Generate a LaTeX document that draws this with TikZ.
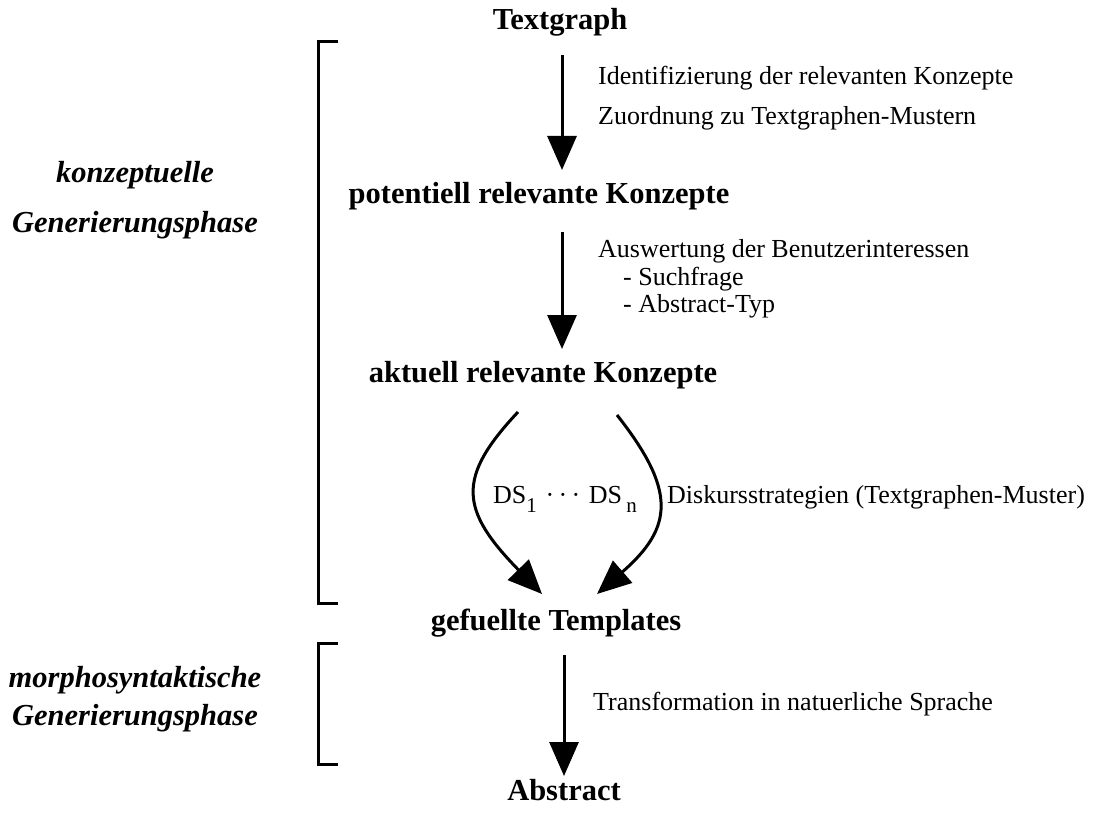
\documentclass[tikz,border=0pt]{standalone}
\usepackage{fontspec}
\setmainfont{Liberation Serif}
\usetikzlibrary{arrows.meta}
\tikzset{
  big/.style={font=\fontsize{30.5}{36}\selectfont\bfseries, inner sep=0pt, anchor=base},
  phase/.style={font=\fontsize{30.5}{36}\selectfont\bfseries\itshape, inner sep=0pt, anchor=base},
  lbl/.style={font=\fontsize{26}{30}\selectfont, inner sep=0pt, anchor=base west},
  flow/.style={line width=3pt, -{Triangle[length=34pt,width=29pt]}},
  brk/.style={line width=3pt, line cap=butt}
}
\begin{document}
\begin{tikzpicture}[x=1pt,y=-1pt]
\useasboundingbox[fill=white] (0,0) rectangle (1113,813);
% main nodes
\node[big] (tg) at (560,30) {Textgraph};
\node[big] (pot) at (539,204) {potentiell relevante Konzepte};
\node[big] (akt) at (543,382) {aktuell relevante Konzepte};
\node[big] (gef) at (556,630) {gefuellte Templates};
\node[big] (abs) at (564,800) {Abstract};
% phase labels
\node[phase] (k1) at (135,183) {konzeptuelle};
\node[phase] (k2) at (135,233) {Generierungsphase};
\node[phase] (m1) at (135,687) {morphosyntaktische};
\node[phase] (m2) at (135,725) {Generierungsphase};
% side labels
\node[lbl] (l1) at (598,85) {Identifizierung der relevanten Konzepte};
\node[lbl] (l2) at (598,125) {Zuordnung zu Textgraphen-Mustern};
\node[lbl] (l3) at (598,257) {Auswertung der Benutzerinteressen};
\node[lbl] (l4) at (623,285) {- Suchfrage};
\node[lbl] (l5) at (623,312) {- Abstract-Typ};
\node[lbl] (ds) at (493,503) {DS\raisebox{-9pt}{\fontsize{21}{21}\selectfont 1}\,\,·\,·\,·\,\,DS\,\raisebox{-9pt}{\fontsize{21}{21}\selectfont n}};
\node[lbl] (l6) at (667,503) {Diskursstrategien (Textgraphen-Muster)};
\node[lbl] (l7) at (593,710) {Transformation in natuerliche Sprache};
% arrow end points
\coordinate (a1s) at (562,55);  \coordinate (a1e) at (562,170);
\coordinate (a2s) at (562,232); \coordinate (a2e) at (562,349);
\coordinate (cls) at (518,412); \coordinate (cle) at (542,594);
\coordinate (crs) at (617,415); \coordinate (cre) at (597,594);
\coordinate (a3s) at (564,655); \coordinate (a3e) at (564,776);
\draw[flow] (a1s) -- (a1e);
\draw[flow] (a2s) -- (a2e);
\draw[flow] (cls) .. controls (456,478) and (460,510) .. (cle);
\draw[flow] (crs) .. controls (676,490) and (674,527) .. (cre);
\draw[flow] (a3s) -- (a3e);
% brackets
\coordinate (b1t) at (318,42); \coordinate (b1b) at (318,603);
\coordinate (b2t) at (318,643); \coordinate (b2b) at (318,764);
\draw[brk] ([xshift=20pt]b1t) -- (b1t) -- (b1b) -- ([xshift=20pt]b1b);
\draw[brk] ([xshift=20pt]b2t) -- (b2t) -- (b2b) -- ([xshift=20pt]b2b);
\end{tikzpicture}
\end{document}
